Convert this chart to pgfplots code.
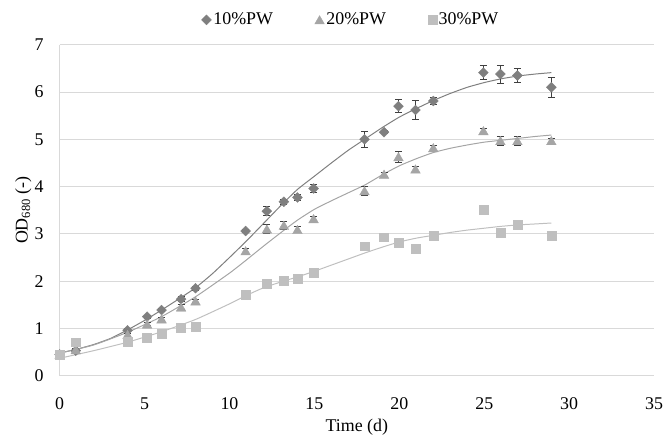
\documentclass[border=0pt]{standalone}
\usepackage{fontspec}
\setmainfont{Liberation Serif}
\usepackage{pgfplots}
\usepackage{pgfplotstable}
\pgfplotsset{compat=1.18}
\definecolor{cA}{HTML}{7F7F7F}
\definecolor{cB}{HTML}{A5A5A5}
\definecolor{cC}{HTML}{BFBFBF}
\definecolor{gridc}{HTML}{D9D9D9}
\definecolor{errc}{HTML}{404040}

\pgfplotstableread{
x y e
0 0.45 0
0.95 0.53 0.03
4 0.96 0.03
5.15 1.25 0.03
6 1.39 0.04
7.15 1.62 0.05
8 1.85 0.04
10.95 3.06 0.03
12.2 3.48 0.09
13.2 3.68 0.05
14 3.77 0.07
14.95 3.96 0.08
17.95 5.00 0.17
19.1 5.15 0.03
19.95 5.70 0.14
20.95 5.62 0.20
22 5.81 0.07
24.95 6.41 0.15
25.95 6.38 0.19
26.95 6.35 0.15
28.95 6.10 0.21
}\tA

\pgfplotstableread{
x y e
0 0.45 0
0.95 0.55 0.02
4 0.87 0.03
5.15 1.09 0.03
6 1.20 0.04
7.15 1.45 0.05
8 1.58 0.04
10.95 2.64 0.05
12.2 3.10 0.10
13.2 3.18 0.09
14 3.09 0.07
14.95 3.32 0.05
17.95 3.91 0.10
19.1 4.26 0.04
19.95 4.63 0.12
20.95 4.37 0.06
22 4.82 0.05
24.95 5.18 0.05
25.95 4.97 0.10
26.95 4.97 0.10
28.95 4.97 0.05
}\tB

\pgfplotstableread{
x y e
0 0.45 0
0.95 0.71 0.02
4 0.73 0.02
5.15 0.80 0.02
6 0.88 0.02
7.15 1.01 0.02
8 1.04 0.02
10.95 1.71 0.03
12.2 1.95 0.03
13.2 2.01 0.03
14 2.06 0.03
14.95 2.18 0.03
17.95 2.74 0.04
19.1 2.93 0.03
19.95 2.82 0.04
20.95 2.68 0.07
22 2.97 0.03
24.95 3.51 0.03
25.95 3.03 0.03
26.95 3.19 0.03
28.95 2.97 0.03
}\tC

\begin{document}
\fontsize{18bp}{21bp}\selectfont
\begin{tikzpicture}
\path (0,0) rectangle (669bp,435bp);
\begin{axis}[
  at={(60bp,57bp)}, anchor=south west,
  scale only axis, width=598bp, height=333bp,
  xmin=0, xmax=35, ymin=0, ymax=7,
  xtick={0,5,...,35}, ytick={0,1,...,7},
  ymajorgrids, grid style={draw=gridc, line width=1bp},
  axis x line=bottom, axis y line=left,
  axis line style={-, draw=gridc, line width=1bp},
  major tick length=0pt,
  clip=false,
  /pgf/number format/assume math mode=true,
  tick label style={font=\fontsize{18bp}{21bp}\selectfont},
  xticklabel style={yshift=-16bp},
  yticklabel style={xshift=-10bp},
  xlabel={Time (d)},
  xlabel style={font=\fontsize{18bp}{21bp}\selectfont, yshift=3bp},
  ylabel={OD\textsubscript{680} (-)},
  ylabel style={font=\fontsize{18bp}{21bp}\selectfont, yshift=-9bp},
  legend columns=3,
  legend style={draw=none, fill=none, at={(0.49,1.075)}, anchor=center,
    font=\fontsize{18bp}{21bp}\selectfont,
    /tikz/every even column/.append style={column sep=40bp}},
  legend cell align=left,
]
% trend lines
\addplot[cA, line width=1bp, smooth, tension=0.3, forget plot] coordinates {
(0,0.48)(1,0.56)(2,0.66)(3,0.79)(4,0.97)(5,1.17)(6,1.39)(7,1.62)(8,1.86)(9,2.16)(10,2.50)(11,2.85)(12,3.22)(13,3.59)(14,3.94)(15,4.22)(16,4.50)(17,4.77)(18,5.01)(19,5.25)(20,5.47)(21,5.65)(22,5.82)(23,5.97)(24,6.10)(25,6.20)(26,6.28)(27,6.34)(28,6.38)(28.95,6.41)};
\addplot[cB, line width=1bp, smooth, tension=0.3, forget plot] coordinates {
(0,0.48)(2,0.65)(4,0.92)(6,1.25)(8,1.67)(10,2.17)(11,2.45)(12,2.74)(13,3.02)(14,3.29)(15,3.52)(16,3.70)(17,3.87)(18,4.04)(19,4.25)(20,4.44)(21,4.59)(22,4.72)(23,4.81)(24,4.88)(25,4.94)(26,4.98)(27,5.02)(28,5.06)(28.95,5.09)};
\addplot[cC, line width=1bp, smooth, tension=0.3, forget plot] coordinates {
(0,0.37)(2,0.53)(4,0.71)(6,0.93)(8,1.19)(10,1.52)(11,1.70)(12,1.86)(13,1.98)(14,2.09)(15,2.21)(16,2.34)(17,2.47)(18,2.60)(19,2.72)(20,2.83)(21,2.91)(22,2.97)(23,3.03)(24,3.08)(25,3.12)(26,3.16)(27,3.19)(28,3.21)(28.95,3.23)};
% data
\addplot[only marks, mark=square*, mark size=3.5bp, mark options={rotate=45, fill=cA, draw=cA},
  error bars/.cd, y dir=both, y explicit,
  error bar style={draw=errc, line width=1bp},
  error mark options={rotate=90, mark size=3.5bp, draw=errc, line width=1bp}]
  table[x=x, y=y, y error=e] {\tA};
\addlegendentry{10\%PW}
\addplot[only marks, mark=triangle*, mark size=5.6bp, mark options={fill=cB, draw=cB, yshift=-1.3bp},
  error bars/.cd, y dir=both, y explicit,
  error bar style={draw=errc, line width=1bp},
  error mark options={rotate=90, mark size=3.5bp, draw=errc, line width=1bp}]
  table[x=x, y=y, y error=e] {\tB};
\addlegendentry{20\%PW}
\addplot[only marks, mark=square*, mark size=4.5bp, mark options={fill=cC, draw=cC},
  error bars/.cd, y dir=both, y explicit,
  error bar style={draw=errc, line width=1bp},
  error mark options={rotate=90, mark size=3.5bp, draw=errc, line width=1bp}]
  table[x=x, y=y, y error=e] {\tC};
\addlegendentry{30\%PW}
\end{axis}
\end{tikzpicture}
\end{document}
